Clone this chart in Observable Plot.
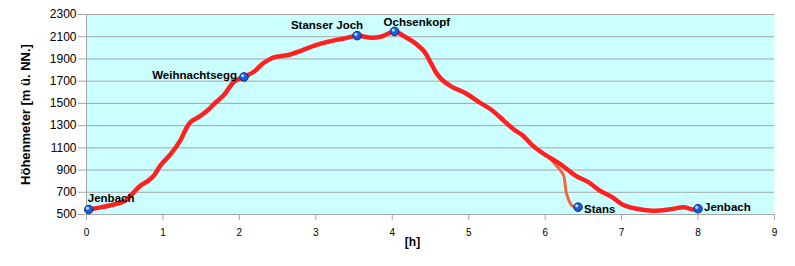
<!DOCTYPE html>
<html>
<head>
<meta charset="utf-8">
<script src="https://cdn.jsdelivr.net/npm/d3@7"></script>
<script src="https://cdn.jsdelivr.net/npm/@observablehq/plot@0.6"></script>
<style>
  html, body { margin: 0; padding: 0; background: #ffffff; }
  svg { font-family: "Liberation Sans", Arial, sans-serif; }
</style>
</head>
<body>
<div id="chart"></div>
<script>
// Main route (hours, elevation)
const mainHours = [0.03,0.2,0.36,0.5,0.58,0.7,0.8,0.88,0.97,1.1,1.23,1.3,1.36,1.47,1.59,1.67,1.8,1.93,2.06,2.19,2.32,2.45,2.64,2.81,2.98,3.16,3.37,3.54,3.73,3.86,4.03,4.16,4.29,4.42,4.5,4.58,4.65,4.78,4.95,5.13,5.3,5.45,5.52,5.6,5.7,5.83,5.95,6.05,6.22,6.39,6.57,6.71,6.88,7.01,7.18,7.4,7.62,7.82,7.93,8.0];
const mainElev  = [545,566,590,622,672,757,800,848,944,1043,1170,1268,1332,1378,1441,1495,1577,1695,1738,1785,1866,1915,1936,1975,2020,2055,2084,2109,2090,2102,2148,2102,2047,1965,1870,1770,1713,1649,1595,1514,1441,1350,1305,1260,1215,1124,1060,1016,943,853,789,717,654,590,554,534,545,565,545,552];

// Branch down to Stans
const branchHours = [6.05,6.18,6.24,6.28,6.35,6.43];
const branchElev  = [1016,913,853,687,581,566];

// Waypoints
const wpNames = ["Jenbach","Weihnachtsegg","Stanser Joch","Ochsenkopf","Stans","Jenbach"];
const wpHours = [0.03,2.06,3.54,4.03,6.43,8.0];
const wpElev  = [545,1738,2110,2148,566,552];

// Axis ticks / labels
const xTicks = [0,1,2,3,4,5,6,7,8,9];
const yTicks = [500,700,900,1100,1300,1500,1700,1900,2100,2300];
const yTitle = "Höhenmeter [m ü. NN.]";
const xTitle = "[h]";

const mainData = mainHours.map((h, i) => ({h, e: mainElev[i]}));
const branchData = branchHours.map((h, i) => ({h, e: branchElev[i]}));
const wp = wpNames.map((name, i) => ({name, h: wpHours[i], e: wpElev[i], i}));

const grey = "#a6a6a6";
const labelFont = {fontSize: 11.5, fontWeight: "bold", fill: "#000"};

function lbl(idx, opts) {
  return Plot.text(wp.filter(d => d.i === idx), {x: "h", y: "e", text: "name", ...labelFont, ...opts});
}

const chart = Plot.plot({
  width: 795,
  height: 266,
  marginLeft: 86,
  marginRight: 21,
  marginTop: 14,
  marginBottom: 52,
  x: {domain: [0, 9]},
  y: {domain: [500, 2300]},
  marks: [
    Plot.frame({fill: "#ccffff", stroke: null}),
    Plot.gridY(yTicks, {stroke: grey, strokeOpacity: 1}),
    Plot.ruleX([0], {stroke: grey}),
    Plot.ruleY([500], {stroke: grey}),
    Plot.axisY(yTicks, {tickSize: 8, tickPadding: 2, stroke: grey, fill: "#000", fontSize: 12, label: null, tickFormat: d => String(d)}),
    Plot.axisX(xTicks, {tickSize: 6, tickPadding: 8, stroke: grey, fill: "#000", fontSize: 10, label: null, tickFormat: d => String(d)}),
    Plot.line(branchData, {x: "h", y: "e", stroke: "#f2683a", strokeWidth: 3, curve: "catmull-rom"}),
    Plot.line(mainData, {x: "h", y: "e", stroke: "#ff2020", strokeWidth: 4.5, curve: "catmull-rom"}),
    Plot.dot(wp, {x: "h", y: "e", r: 4.3, fill: "#1f5ad8", stroke: "#0b2f8a", strokeWidth: 1}),
    Plot.dot(wp, {x: "h", y: "e", r: 1.6, fill: "#b8d4ff", stroke: null, dx: -1.3, dy: -1.3}),
    lbl(0, {textAnchor: "start", dx: -1, dy: -11}),
    lbl(1, {textAnchor: "end", dx: -7, dy: -2}),
    lbl(2, {textAnchor: "end", dx: 6, dy: -10}),
    lbl(3, {textAnchor: "start", dx: -11, dy: -9}),
    lbl(4, {textAnchor: "start", dx: 6, dy: 2}),
    lbl(5, {textAnchor: "start", dx: 6, dy: -1}),
    Plot.text([yTitle], {frameAnchor: "left", textAnchor: "middle", dx: -61, rotate: -90, fontSize: 13, fontWeight: "bold", fill: "#000"}),
    Plot.text([xTitle], {frameAnchor: "bottom", textAnchor: "middle", dx: -18, dy: 31, fontSize: 12, fontWeight: "bold", fill: "#000"})
  ]
});
document.getElementById("chart").appendChild(chart);
</script>
</body>
</html>
